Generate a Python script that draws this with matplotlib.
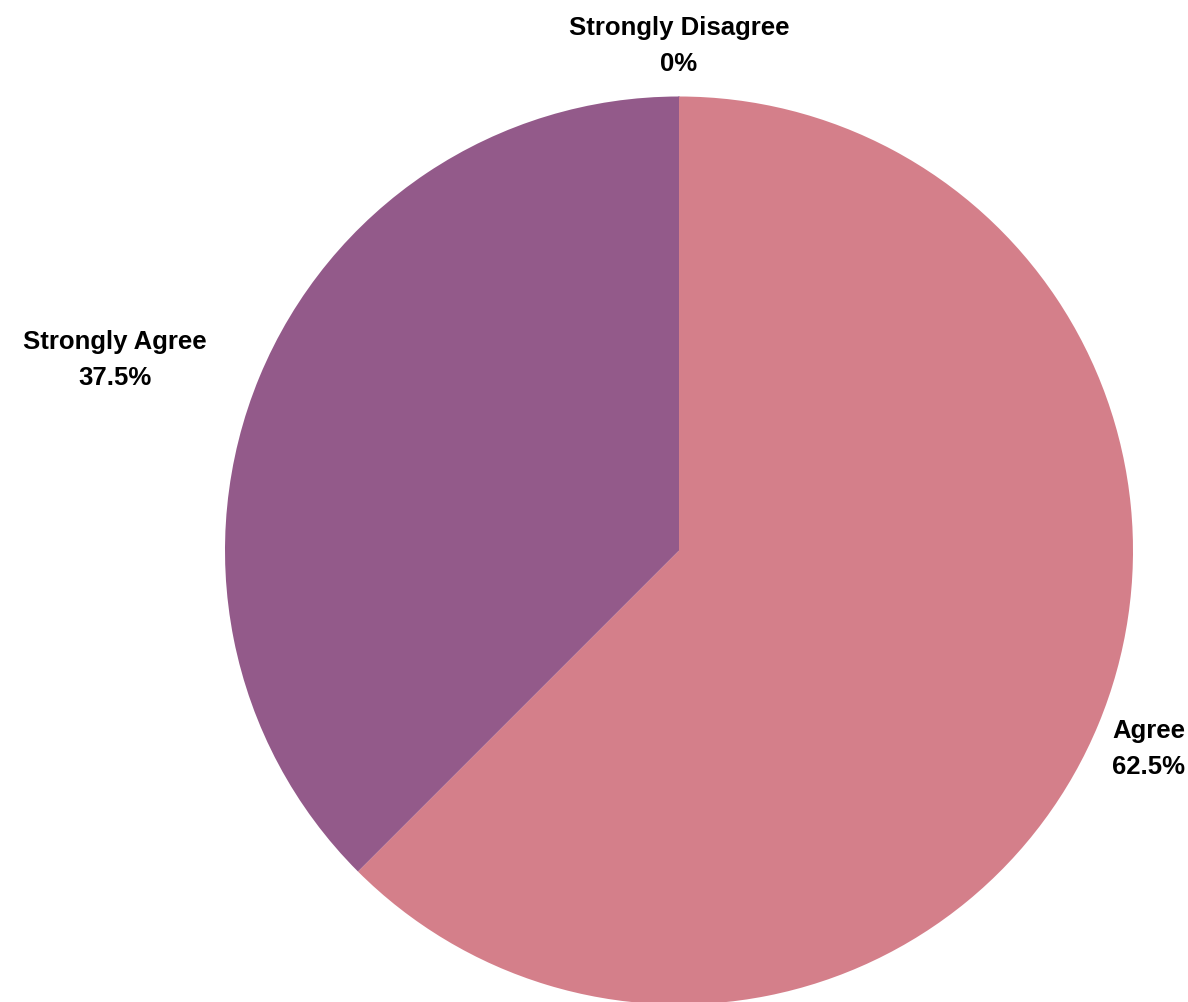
import numpy as np
import matplotlib
matplotlib.use("Agg")
import matplotlib.pyplot as plt

categories = ["Strongly Disagree", "Agree", "Strongly Agree"]
values = [0.0, 62.5, 37.5]
colors = ["#7b70ad", "#d47f8a", "#935a8a"]

W, H = 1188, 1003
fig = plt.figure(figsize=(W / 100, H / 100), dpi=100)
ax = fig.add_axes([0, 0, 1, 1])
ax.set_xlim(0, W)
ax.set_ylim(0, H)
ax.set_aspect("equal")
ax.axis("off")

cx, cy, R = 679, H - 551.5, 454
wedges, _ = ax.pie(values, colors=colors, startangle=90, counterclock=False,
                   center=(cx, cy), radius=R, frame=True,
                   wedgeprops=dict(linewidth=0))
wedges[0].set_edgecolor(colors[0])
wedges[0].set_linewidth(1.2)
ax.set_xlim(0, W)
ax.set_ylim(0, H)
ax.axis("off")

total = sum(values)
start = 90.0
offsets = {"Strongly Agree": -94}
for cat, v in zip(categories, values):
    span = 360 * v / total
    mid = np.deg2rad(start - span / 2)
    start -= span
    x = cx + 1.12 * R * np.cos(mid)
    y = cy + 1.12 * R * np.sin(mid)
    dx = offsets.get(cat, 0)
    pct = f"{v:g}%"
    ax.annotate(f"{cat}\n{pct}", xy=(x, y), xytext=(dx, -3), textcoords="offset pixels",
                ha="center", va="center", fontsize=18.5, fontweight="bold",
                family="Liberation Sans", linespacing=1.65, color="#000000")

fig.savefig("out.png", dpi=100, facecolor="white")
